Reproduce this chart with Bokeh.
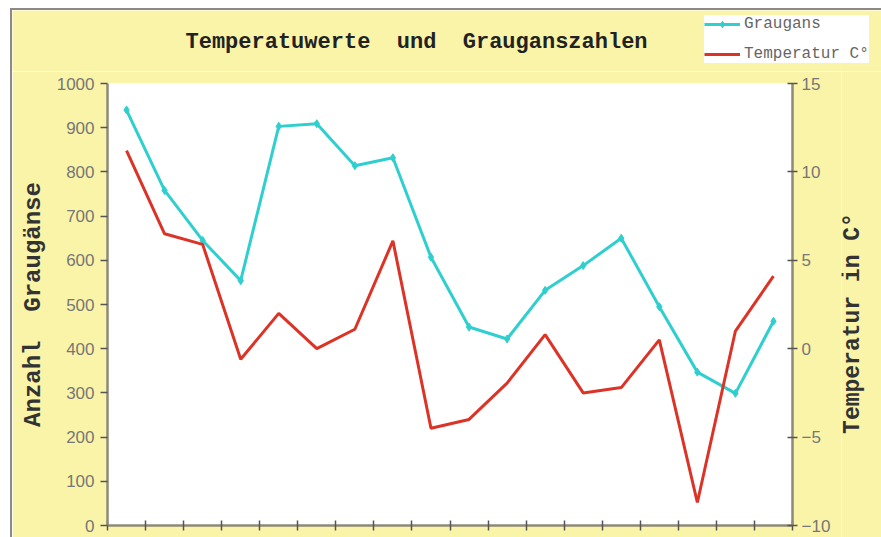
import math
import numpy as np
from bokeh.plotting import figure
from bokeh.layouts import column, row
from bokeh.models import (Range1d, LinearAxis, FixedTicker, Legend, LegendItem, Label,
                          Spacer, CustomJSTickFormatter)
from bokeh.embed import file_html
from bokeh.resources import INLINE

# ---- data ----
messungen = list(range(1, 19))
graugans = [940, 758, 645, 554, 903, 909, 814, 832, 607, 449, 422, 532, 588, 650, 495, 347, 299, 462]
temperatur = [11.2, 6.5, 5.9, -0.6, 2.0, 0.0, 1.1, 6.1, -4.5, -4.0, -1.95, 0.8, -2.5, -2.2, 0.5, -8.7, 1.0, 4.1]
left_ticks = [0, 100, 200, 300, 400, 500, 600, 700, 800, 900, 1000]
right_ticks = [-10, -5, 0, 5, 10, 15]
title_text = "Temperatuwerte\u00a0\u00a0und\u00a0\u00a0Grauganszahlen"
left_label = "Anzahl\u00a0\u00a0Graugänse"
right_label = "Temperatur in C°"
series_names = ["Graugans", "Temperatur C°"]

YELLOW = "#FAF4A8"
CYAN = "#2FCFCF"
RED = "#DC3326"
AXIS = "#8E8A78"
TICKLBL = "#777777"
FRAME = "#8a8a8a"

x = np.arange(len(messungen)) + 0.5

# ---------- header (title + legend) ----------
# ranges far from the data: the proxy renderers only feed the legend
header = figure(width=869, height=61, output_backend="svg", toolbar_location=None,
                x_range=Range1d(-100, -99), y_range=Range1d(-100, -99),
                x_axis_type=None, y_axis_type=None, min_border=0)
header.frame_align = False
header.background_fill_color = YELLOW
header.border_fill_color = YELLOW
header.outline_line_color = None

header.add_layout(Label(x=173, y=29, x_units="screen", y_units="screen", text=title_text,
                        text_font="Liberation Mono", text_font_style="bold",
                        text_font_size="22px", text_color="#222222",
                        text_align="left", text_baseline="middle"))

hg = header.line(x, graugans, line_color=CYAN, line_width=3)
hs = header.scatter(x, graugans, marker="diamond", size=8, fill_color=CYAN, line_color=CYAN)
ht = header.line(x, temperatur, line_color=RED, line_width=3)
legend = Legend(items=[LegendItem(label=series_names[0], renderers=[hg, hs]),
                       LegendItem(label=series_names[1], renderers=[ht])],
                location=(692, 8), orientation="vertical",
                background_fill_color="white", background_fill_alpha=1.0,
                border_line_color=None,
                label_text_font="Liberation Mono", label_text_font_size="16px",
                label_text_color="#666666", glyph_width=36, glyph_height=16,
                label_height=16, label_standoff=4, spacing=12, padding=10, margin=0)
header.add_layout(legend, "center")

# ---------- main chart ----------
p = figure(width=829, height=466, output_backend="svg", toolbar_location=None,
           x_range=Range1d(0, len(messungen)), y_range=Range1d(0, 1000),
           min_border_left=95, min_border_right=49, min_border_top=12, min_border_bottom=12)
p.frame_align = False
p.extra_y_ranges = {"temp": Range1d(-10, 15)}

p.background_fill_color = "white"
p.border_fill_color = YELLOW
p.outline_line_color = None
p.grid.visible = False

# x axis: ticks at category boundaries, no labels
p.xaxis.ticker = FixedTicker(ticks=list(range(0, len(messungen) + 1)))
p.xaxis.formatter = CustomJSTickFormatter(code="return ''")
p.xaxis.major_label_standoff = 0
p.xaxis.major_tick_in = 5
p.xaxis.major_tick_out = 5
p.xaxis.minor_tick_line_color = None
p.xaxis.axis_line_color = AXIS
p.xaxis.axis_line_width = 2.5
p.xaxis.major_tick_line_color = "#555555"
p.xaxis.major_tick_line_width = 1.5

# left axis
p.yaxis.ticker = FixedTicker(ticks=left_ticks)
p.yaxis.axis_label = left_label
p.yaxis.axis_label_text_font = "Liberation Mono"
p.yaxis.axis_label_text_font_style = "bold"
p.yaxis.axis_label_text_font_size = "24px"
p.yaxis.axis_label_text_color = "#333333"
p.yaxis.axis_label_standoff = 7
p.yaxis.major_label_text_font = "Liberation Sans"
p.yaxis.major_label_text_font_size = "17px"
p.yaxis.major_label_text_color = TICKLBL
p.yaxis.major_label_standoff = 6
p.yaxis.major_tick_in = 0
p.yaxis.major_tick_out = 7
p.yaxis.minor_tick_line_color = None
p.yaxis.axis_line_color = AXIS
p.yaxis.axis_line_width = 2.5
p.yaxis.major_tick_line_color = "#555555"
p.yaxis.major_tick_line_width = 1.5

# right axis (tick labels only; its title sits in the strip to the right)
ra = LinearAxis(y_range_name="temp", ticker=FixedTicker(ticks=right_ticks))
ra.major_label_text_font = "Liberation Sans"
ra.major_label_text_font_size = "17px"
ra.major_label_text_color = TICKLBL
ra.major_label_standoff = 4
ra.major_tick_in = 5
ra.major_tick_out = 5
ra.minor_tick_line_color = None
ra.axis_line_color = AXIS
ra.axis_line_width = 2.5
ra.major_tick_line_color = "#555555"
ra.major_tick_line_width = 1.5
p.add_layout(ra, "right")

# data
p.line(x, graugans, line_color=CYAN, line_width=3)
p.scatter(x, graugans, marker="diamond", size=8, fill_color=CYAN, line_color=CYAN)
p.line(x, temperatur, y_range_name="temp", line_color=RED, line_width=3)

# ---------- right strip with the temperature axis title (reads bottom to top) ----------
side = figure(width=40, height=466, output_backend="svg", toolbar_location=None,
              x_range=Range1d(0, 1), y_range=Range1d(0, 1),
              x_axis_type=None, y_axis_type=None, min_border=0)
side.frame_align = False
side.background_fill_color = YELLOW
side.border_fill_color = YELLOW
side.outline_line_color = None
side.add_layout(Label(x=11, y=214, x_units="screen", y_units="screen", text=right_label,
                      angle=math.pi / 2, text_font="Liberation Mono", text_font_style="bold",
                      text_font_size="23px", text_color="#333333",
                      text_align="center", text_baseline="middle"))

# ---------- page layout: white margin + grey frame lines ----------
grey = {"background-color": FRAME}
page = column(
    Spacer(width=881, height=8),
    row(Spacer(width=10, height=529),
        Spacer(width=2, height=529, styles=grey),
        column(Spacer(width=869, height=2, styles=grey), header,
               row(p, side, spacing=0), spacing=0),
        spacing=0),
    spacing=0)

open("out.html", "w").write(file_html(page, INLINE))
